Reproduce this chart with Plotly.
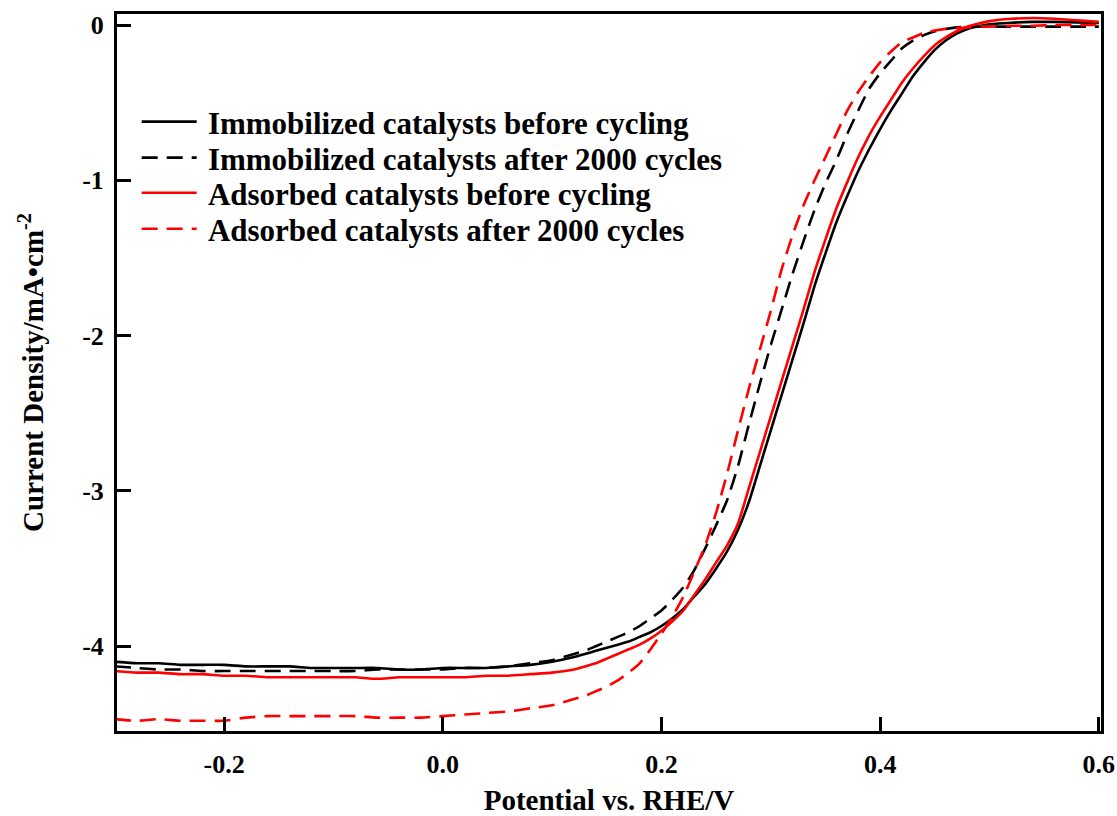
import plotly.graph_objects as go

# Potential vs. RHE (V)
potential = [-0.30, -0.28, -0.26, -0.24, -0.22, -0.20, -0.18, -0.16, -0.14, -0.12, -0.10,
             -0.08, -0.06, -0.04, -0.02, 0.00, 0.02, 0.04, 0.06, 0.08, 0.10, 0.12,
             0.13, 0.14, 0.15, 0.16, 0.17, 0.18, 0.19, 0.20, 0.21, 0.22, 0.23, 0.24, 0.25,
             0.26, 0.27, 0.28, 0.29, 0.30, 0.31, 0.32, 0.33, 0.34, 0.35, 0.36, 0.37, 0.38,
             0.39, 0.40, 0.41, 0.42, 0.43, 0.44, 0.45, 0.46, 0.47, 0.48, 0.49, 0.50,
             0.52, 0.54, 0.56, 0.58, 0.60]

immob_before = [-4.10, -4.11, -4.11, -4.12, -4.12, -4.12, -4.13, -4.13, -4.13, -4.14, -4.14,
                -4.14, -4.14, -4.15, -4.15, -4.14, -4.14, -4.14, -4.13, -4.12, -4.10, -4.07,
                -4.05, -4.03, -4.01, -3.99, -3.97, -3.94, -3.91, -3.87, -3.82, -3.76, -3.68, -3.60, -3.50,
                -3.39, -3.25, -3.07, -2.84, -2.61, -2.38, -2.15, -1.92, -1.68, -1.47, -1.27, -1.10, -0.94,
                -0.80, -0.67, -0.55, -0.44, -0.33, -0.24, -0.16, -0.10, -0.055, -0.025, -0.008, 0.004,
                0.015, 0.02, 0.02, 0.017, 0.013]

immob_after = [-4.13, -4.14, -4.15, -4.15, -4.16, -4.16, -4.16, -4.16, -4.16, -4.16, -4.16,
               -4.16, -4.15, -4.15, -4.15, -4.15, -4.14, -4.14, -4.13, -4.11, -4.09, -4.05,
               -4.03, -4.00, -3.97, -3.94, -3.91, -3.87, -3.82, -3.77, -3.70, -3.62, -3.51, -3.37, -3.22,
               -3.06, -2.84, -2.57, -2.31, -2.06, -1.83, -1.60, -1.39, -1.19, -1.02, -0.87, -0.70, -0.55,
               -0.41, -0.31, -0.23, -0.15, -0.10, -0.065, -0.04, -0.025, -0.015, -0.01, -0.01, -0.01,
               -0.01, -0.01, -0.01, -0.01, -0.01]

adsorb_before = [-4.16, -4.17, -4.17, -4.18, -4.18, -4.19, -4.19, -4.20, -4.20, -4.20, -4.20,
                 -4.20, -4.21, -4.20, -4.20, -4.20, -4.20, -4.19, -4.19, -4.18, -4.17, -4.15,
                 -4.13, -4.11, -4.08, -4.05, -4.02, -3.99, -3.95, -3.90, -3.84, -3.77, -3.67, -3.57, -3.46,
                 -3.35, -3.21, -2.98, -2.75, -2.52, -2.29, -2.06, -1.83, -1.59, -1.38, -1.18, -1.01, -0.85,
                 -0.71, -0.59, -0.48, -0.37, -0.28, -0.20, -0.13, -0.08, -0.04, -0.01, 0.01, 0.025,
                 0.04, 0.045, 0.04, 0.03, 0.02]

adsorb_after = [-4.47, -4.48, -4.47, -4.48, -4.48, -4.48, -4.46, -4.45, -4.45, -4.45, -4.45,
                -4.45, -4.46, -4.46, -4.46, -4.45, -4.44, -4.43, -4.42, -4.40, -4.38, -4.34,
                -4.32, -4.29, -4.26, -4.22, -4.17, -4.11, -4.02, -3.92, -3.81, -3.68, -3.52, -3.35, -3.14,
                -2.89, -2.61, -2.34, -2.09, -1.84, -1.57, -1.35, -1.16, -1.00, -0.85, -0.70, -0.55, -0.43,
                -0.33, -0.24, -0.17, -0.11, -0.08, -0.05, -0.035, -0.025, -0.02, -0.015, -0.01, -0.01,
                -0.005, -0.005, 0.0, 0.0, 0.0]

series_names = ["Immobilized catalysts before cycling",
                "Immobilized catalysts after 2000 cycles",
                "Adsorbed catalysts before cycling",
                "Adsorbed catalysts after 2000 cycles"]

x_tickvals = [-0.2, 0.0, 0.2, 0.4, 0.6]
x_ticktext = ["-0.2", "0.0", "0.2", "0.4", "0.6"]
y_tickvals = [0, -1, -2, -3, -4]
y_ticktext = ["0", "-1", "-2", "-3", "-4"]

FONT = "Liberation Serif, Times New Roman, serif"
series = [immob_before, immob_after, adsorb_before, adsorb_after]
colors = ["#000000", "#000000", "#ff0000", "#ff0000"]
dashes = ["solid", "16px,9px", "solid", "16px,9px"]
legends = ["legend", "legend2", "legend3", "legend4"]

fig = go.Figure()
for name, ys, c, d, lg in zip(series_names, series, colors, dashes, legends):
    fig.add_trace(go.Scatter(x=potential, y=ys, mode="lines", name="\u2009" + name,
                             line=dict(color=c, width=2.6, dash=d, shape="spline", smoothing=0.5),
                             legend=lg))

leg_y = [0.8494, 0.7992, 0.7503, 0.7001]
common_leg = dict(x=0.020, xanchor="left", yanchor="middle", bgcolor="rgba(0,0,0,0)",
                  borderwidth=0, itemwidth=55,
                  font=dict(family=FONT, size=31, color="black", weight="bold"))
layout_legs = {}
for lg, yy in zip(legends, leg_y):
    layout_legs[lg] = dict(common_leg, y=yy)

fig.update_layout(
    width=1117, height=816,
    margin=dict(l=117, r=16, t=14, b=85),
    paper_bgcolor="white", plot_bgcolor="white",
    font=dict(family=FONT, color="black"),
    showlegend=True,
    **layout_legs,
)
fig.update_xaxes(
    range=[-0.298, 0.602], showgrid=False, zeroline=False, automargin=False,
    showline=True, linecolor="black", linewidth=3, mirror=True,
    ticks="inside", ticklen=14, tickwidth=3, tickcolor="black",
    tickvals=x_tickvals, ticktext=x_ticktext, ticklabelstandoff=8,
    tickfont=dict(family=FONT, size=26, color="black", weight="bold"),
    title=dict(text="Potential vs. RHE/V", standoff=14,
               font=dict(family=FONT, size=29, color="black", weight="bold")),
)
fig.update_yaxes(
    range=[-4.546, 0.071], showgrid=False, zeroline=False, automargin=False,
    showline=True, linecolor="black", linewidth=3, mirror=True,
    ticks="inside", ticklen=14, tickwidth=3, tickcolor="black",
    tickvals=y_tickvals, ticktext=y_ticktext, ticklabelstandoff=5,
    tickfont=dict(family=FONT, size=26, color="black", weight="bold"),
    title=dict(text="Current Density/mA•cm<sup>-2</sup>", standoff=30,
               font=dict(family=FONT, size=29, color="black", weight="bold")),
)

fig.write_html("out.html")
